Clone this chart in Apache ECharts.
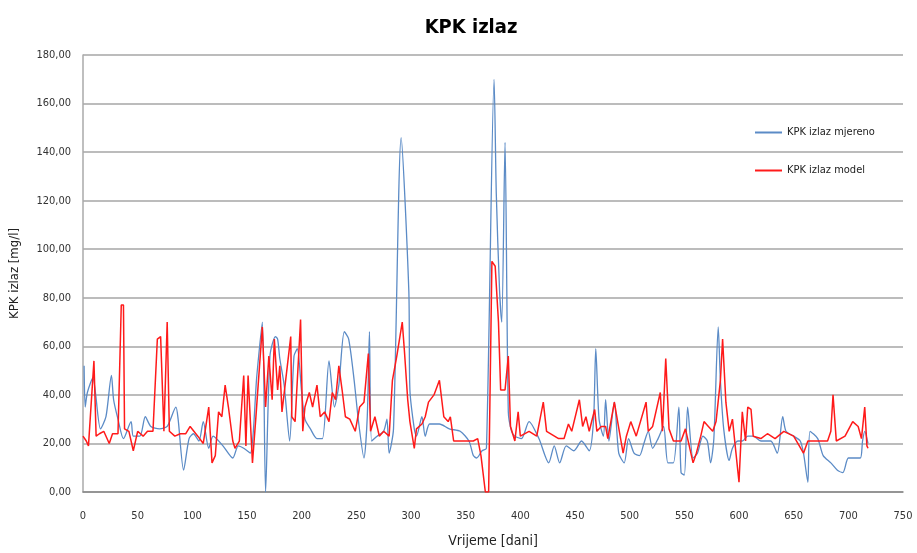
<!DOCTYPE html>
<html>
<head>
<meta charset="utf-8">
<title>KPK izlaz</title>
<script src="https://cdn.jsdelivr.net/npm/echarts@6/dist/echarts.min.js"></script>
<style>
  html, body { margin: 0; padding: 0; background: #fff; }
  #chart { width: 917px; height: 553px; }
</style>
</head>
<body>
<div id="chart"></div>
<script>
// KPK izlaz mjereno (dani, mg/l)
const mjerenoDani = [1, 2, 4, 9, 16, 21, 26, 28, 32, 37, 44, 46, 52, 57, 62, 70, 77, 85, 87, 92, 97, 101, 106, 110, 115, 119, 128, 137, 142, 147, 153, 159, 164, 167, 171, 176, 178, 180, 184, 189, 193, 196, 200, 203, 208, 214, 219, 225, 230, 234, 239, 243, 248, 252, 257, 260, 262, 264, 269, 275, 278, 280, 284, 291, 298, 299, 303, 305, 310, 313, 317, 326, 335, 345, 353, 357, 360, 365, 369, 376, 378, 381, 383, 386, 389, 392, 395, 401, 408, 417, 426, 431, 436, 442, 449, 456, 463, 467, 469, 472, 476, 478, 481, 486, 490, 495, 499, 504, 509, 513, 517, 521, 526, 531, 535, 540, 545, 547, 550, 553, 558, 562, 567, 571, 574, 577, 581, 583, 586, 591, 594, 599, 603, 608, 613, 620, 629, 635, 640, 643, 650, 656, 659, 663, 665, 672, 677, 684, 690, 695, 700, 705, 711, 713, 715, 718];
const mjerenoVrijednosti = [52, 35, 41, 47, 26, 31, 48, 38, 30, 22, 29, 23, 23, 31, 27, 26, 27, 35, 30, 9, 22, 24, 21, 29, 18, 23, 19, 14, 19, 18, 16, 48, 70, 0, 56, 64, 63, 55, 44, 21, 56, 59, 41, 30, 26, 22, 22, 54, 35, 44, 66, 63, 46, 29, 14, 31, 66, 21, 23, 25, 30, 16, 26, 146, 83, 42, 26, 23, 31, 23, 28, 28, 26, 25, 21, 15, 14, 17, 18, 170, 123, 83, 70, 144, 33, 25, 23, 22, 29, 22, 12, 19, 12, 19, 17, 21, 17, 30, 59, 30, 23, 38, 21, 37, 16, 12, 22, 16, 15, 20, 25, 18, 22, 27, 12, 12, 35, 8, 7, 35, 14, 16, 23, 21, 12, 22, 68, 46, 26, 13, 18, 21, 21, 23, 23, 21, 21, 16, 31, 25, 23, 21, 16, 4, 25, 22, 15, 12, 9, 8, 14, 14, 14, 21, 25, 20];

// KPK izlaz model (dani, mg/l)
const modelDani = [0, 3, 5, 10, 12, 15, 19, 24, 27, 32, 35, 37, 38, 42, 46, 50, 55, 59, 64, 68, 71, 74, 77, 79, 84, 89, 94, 98, 105, 110, 115, 118, 121, 124, 127, 130, 133, 137, 139, 143, 147, 149, 151, 155, 158, 164, 167, 170, 173, 175, 178, 180, 182, 190, 191, 194, 199, 201, 203, 207, 210, 214, 217, 221, 225, 228, 231, 234, 237, 240, 244, 249, 253, 257, 261, 263, 267, 271, 275, 280, 283, 287, 292, 294, 297, 299, 303, 305, 310, 313, 316, 321, 326, 330, 334, 336, 339, 348, 357, 361, 364, 368, 371, 374, 377, 380, 382, 386, 389, 391, 395, 398, 400, 408, 415, 421, 424, 435, 440, 444, 447, 454, 457, 460, 463, 468, 470, 474, 478, 480, 486, 489, 494, 497, 501, 506, 515, 517, 521, 528, 530, 533, 536, 540, 547, 551, 558, 561, 565, 568, 572, 576, 579, 583, 585, 588, 591, 594, 600, 603, 606, 608, 611, 613, 620, 626, 633, 641, 650, 659, 663, 672, 681, 684, 686, 689, 697, 704, 709, 712, 715, 717, 718];
const modelVrijednosti = [23, 21, 19, 54, 23, 24, 25, 20, 24, 24, 77, 77, 26, 25, 17, 25, 23, 25, 25, 63, 64, 25, 70, 25, 23, 24, 24, 27, 23, 20, 35, 12, 15, 33, 31, 44, 35, 21, 18, 21, 48, 19, 48, 12, 30, 68, 35, 56, 38, 63, 42, 52, 33, 64, 31, 29, 71, 25, 35, 41, 35, 44, 31, 33, 29, 41, 38, 52, 42, 31, 30, 25, 35, 37, 57, 25, 31, 23, 25, 23, 46, 56, 70, 58, 38, 29, 18, 26, 28, 31, 37, 40, 46, 31, 29, 31, 21, 21, 21, 22, 15, 0, 0, 95, 93, 70, 42, 42, 56, 27, 21, 33, 23, 25, 23, 37, 25, 22, 22, 28, 25, 38, 27, 31, 25, 34, 25, 27, 27, 22, 37, 29, 16, 23, 29, 23, 37, 25, 27, 41, 25, 55, 26, 21, 21, 26, 12, 16, 23, 29, 27, 25, 29, 46, 63, 37, 25, 30, 4, 33, 21, 35, 34, 23, 22, 24, 22, 25, 23, 16, 21, 21, 21, 25, 40, 21, 23, 29, 27, 22, 35, 19, 18];

const xTicks = { min: 0, max: 750, interval: 50 };
const yTicks = { min: 0, max: 180, interval: 20 };

const pairs = (xs, ys) => xs.map((x, i) => [x, ys[i]]);

const chart = echarts.init(document.getElementById('chart'), null, { renderer: 'canvas' });

const font = "'DejaVu Sans Condensed', 'Liberation Sans Narrow', sans-serif";

const option = {
  animation: false,
  textStyle: { fontFamily: font },
  title: {
    text: 'KPK izlaz',
    left: 466,
    top: 13,
    textAlign: 'center',
    textStyle: { fontSize: 20, fontWeight: 'bold', color: '#000', fontFamily: font }
  },
  legend: {
    orient: 'vertical',
    left: 750,
    top: 122,
    icon: 'rect',
    itemWidth: 27,
    itemHeight: 2,
    itemGap: 27,
    textStyle: { fontSize: 11, color: '#222', fontFamily: font },
    data: ['KPK izlaz mjereno', 'KPK izlaz model']
  },
  grid: { left: 80, right: 14, top: 55, bottom: 60, containLabel: false },
  xAxis: {
    type: 'value',
    min: xTicks.min,
    max: xTicks.max,
    interval: xTicks.interval,
    name: 'Vrijeme [dani]',
    nameLocation: 'middle',
    nameGap: 42,
    nameTextStyle: { fontSize: 14, color: '#222', fontFamily: font },
    axisLine: { lineStyle: { color: '#888', width: 1.5 } },
    axisTick: { show: false },
    axisLabel: { fontSize: 11, color: '#333', margin: 19 },
    splitLine: { show: false }
  },
  yAxis: {
    type: 'value',
    min: yTicks.min,
    max: yTicks.max,
    interval: yTicks.interval,
    name: 'KPK izlaz [mg/l]',
    nameLocation: 'middle',
    nameGap: 62,
    nameTextStyle: { fontSize: 13, color: '#222', fontFamily: font },
    axisLine: { show: true, lineStyle: { color: '#aaa', width: 1.5 } },
    axisTick: { show: false },
    axisLabel: {
      fontSize: 11,
      color: '#333',
      margin: 12,
      formatter: v => v.toFixed(2).replace('.', ',')
    },
    splitLine: { lineStyle: { color: '#a6a6a6', width: 1.5 } }
  },
  series: [
    {
      name: 'KPK izlaz mjereno',
      type: 'line',
      data: pairs(mjerenoDani, mjerenoVrijednosti),
      symbol: 'none',
      smooth: 0.25,
      lineStyle: { color: '#5b8bc6', width: 1.3 },
      itemStyle: { color: '#5b8bc6' },
      z: 2
    },
    {
      name: 'KPK izlaz model',
      type: 'line',
      data: pairs(modelDani, modelVrijednosti),
      symbol: 'none',
      smooth: false,
      lineStyle: { color: '#ff1a1a', width: 1.5 },
      itemStyle: { color: '#ff1a1a' },
      z: 3
    }
  ]
};

chart.setOption(option);
</script>
</body>
</html>
